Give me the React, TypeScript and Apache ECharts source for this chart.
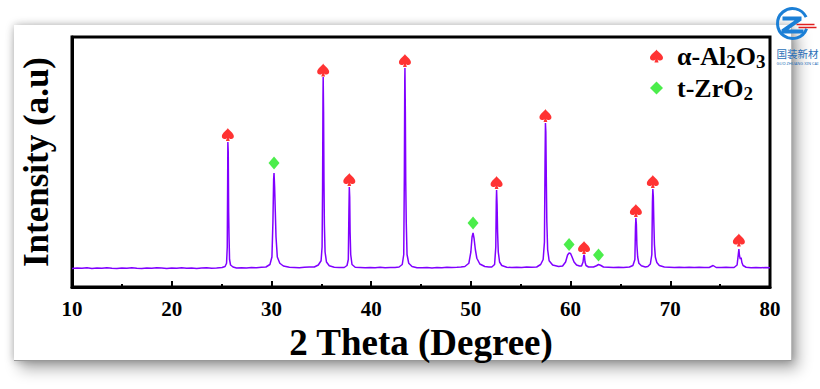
import React, { useEffect, useRef } from "react";
import * as echarts from "echarts";

// XRD pattern: [2θ (deg), intensity (a.u.)]
const xrdPattern: [number, number][] = [
  [10, 74], [10.5, 76], [11, 75], [11.5, 77], [12, 74], [12.5, 76], [13, 75], [13.5, 77], [14, 75], [14.5, 74],
  [15, 76], [15.5, 75], [16, 77], [16.5, 75], [17, 74], [17.5, 76], [18, 75], [18.5, 77], [19, 76], [19.5, 74],
  [20, 76], [20.5, 75], [21, 77], [21.5, 75], [22, 76], [22.5, 74], [23, 76], [23.5, 77], [24, 75], [24.5, 76],
  [25.05, 78], [25.35, 82], [25.5, 95], [25.57, 160], [25.61, 420], [25.63, 580], [25.67, 540], [25.71, 300],
  [25.75, 200], [25.8, 110], [25.9, 88], [26.15, 80], [26.5, 76],
  [27, 77], [27.5, 76], [28, 78], [28.5, 77], [29, 79],
  [29.45, 80], [29.85, 90], [30.05, 120], [30.15, 260], [30.22, 430], [30.26, 456], [30.32, 400], [30.39, 300],
  [30.46, 200], [30.59, 120], [30.84, 95], [31.2, 84], [31.8, 79],
  [32.3, 78], [32.8, 77], [33.3, 79], [33.8, 80],
  [34.3, 80], [34.7, 88], [34.98, 105], [35.08, 160], [35.13, 400], [35.17, 760], [35.19, 840], [35.23, 700],
  [35.27, 420], [35.31, 250], [35.38, 140], [35.52, 100], [35.8, 85], [36.3, 79],
  [36.8, 78],
  [37.3, 78], [37.58, 86], [37.71, 110], [37.77, 300], [37.81, 400], [37.85, 360], [37.89, 220], [37.95, 130],
  [38.08, 90], [38.4, 79],
  [38.9, 78], [39.4, 77], [39.9, 78], [40.4, 77], [40.9, 79], [41.4, 77], [41.9, 78], [42.4, 78],
  [42.8, 80], [43.12, 90], [43.27, 130], [43.33, 450], [43.37, 820], [43.39, 876], [43.43, 700], [43.47, 420],
  [43.52, 260], [43.6, 130], [43.77, 95], [44.1, 82], [44.6, 77],
  [45.1, 77], [45.6, 78], [46.1, 76], [46.6, 78], [47.1, 77], [47.6, 79], [48.1, 78], [48.6, 79], [49.0, 80],
  [49.4, 82], [49.8, 95], [50.0, 140], [50.12, 200], [50.22, 216], [50.32, 195], [50.45, 150], [50.6, 115],
  [50.9, 92], [51.4, 82], [51.8, 80],
  [52.1, 80], [52.38, 90], [52.5, 160], [52.55, 340], [52.58, 388], [52.63, 330], [52.68, 220], [52.75, 140],
  [52.88, 100], [53.1, 86], [53.6, 79],
  [54.1, 78], [54.6, 79], [55.1, 78], [55.6, 80], [56.1, 79],
  [56.6, 80], [57.0, 90], [57.25, 110], [57.38, 180], [57.44, 500], [57.48, 656], [57.52, 620], [57.57, 420],
  [57.62, 260], [57.7, 150], [57.85, 105], [58.2, 88], [58.8, 82],
  [59.2, 84], [59.5, 100], [59.7, 128], [59.85, 136], [60.0, 134], [60.15, 120], [60.35, 100], [60.6, 88], [60.9, 84],
  [61.1, 84], [61.25, 100], [61.33, 128], [61.39, 125], [61.45, 100], [61.55, 86], [61.8, 80],
  [62.3, 80], [62.6, 85], [62.8, 90], [63.0, 87], [63.3, 80],
  [63.8, 79], [64.3, 78], [64.8, 79], [65.3, 78],
  [65.9, 80], [66.25, 86], [66.45, 110], [66.51, 240], [66.55, 276], [66.6, 250], [66.65, 170], [66.73, 120],
  [66.85, 95], [67.1, 85], [67.5, 80],
  [67.75, 82], [68.0, 92], [68.15, 130], [68.21, 340], [68.25, 392], [68.3, 360], [68.35, 260], [68.41, 170],
  [68.5, 120], [68.65, 98], [68.9, 86], [69.4, 80],
  [69.9, 79], [70.4, 78], [70.9, 79], [71.4, 78], [71.9, 79], [72.4, 78], [72.9, 79], [73.4, 78],
  [73.9, 78], [74.3, 86], [74.6, 78],
  [75.1, 78], [75.6, 79], [76.0, 78],
  [76.4, 78], [76.7, 88], [76.82, 130], [76.88, 152], [76.94, 125], [77.02, 112], [77.1, 118], [77.18, 98],
  [77.3, 86], [77.6, 79],
  [78.1, 77], [78.6, 78], [79.1, 77], [79.6, 78], [80, 77],
];

// Phase markers (2θ, marker height)
const aluminaPeaks: [number, number][] = [
  [25.63, 610], [35.19, 868], [37.81, 430], [43.39, 906], [52.58, 418], [57.48, 686],
  [61.35, 158], [66.55, 306], [68.25, 422], [76.88, 188],
];
const zirconiaPeaks: [number, number][] = [
  [30.26, 496], [50.22, 256], [59.85, 170], [62.8, 128],
];

const xTickValues = [10, 20, 30, 40, 50, 60, 70, 80];

const SERIF = "'Liberation Serif', 'Times New Roman', serif";
const SPADE =
  "path://M50,0 C42,18 0,38 0,64 C0,86 26,92 42,76 L34,100 L66,100 L58,76 C74,92 100,86 100,64 C100,38 58,18 50,0 Z";

export default function App() {
  const ref = useRef<HTMLDivElement>(null);

  useEffect(() => {
    if (!ref.current) return;
    const chart = echarts.init(ref.current, undefined, { renderer: "svg" });
    chart.setOption({
      animation: false,
      backgroundColor: "transparent",
      grid: {
        left: 72,
        right: 50,
        top: 37,
        bottom: 102,
        show: true,
        borderColor: "#000",
        borderWidth: 3,
        backgroundColor: "transparent",
      },
      legend: {
        orient: "vertical",
        left: 645,
        top: 38,
        itemWidth: 13,
        itemHeight: 13,
        itemGap: 4,
        data: [
          { name: "α-Al2O3", icon: SPADE },
          { name: "t-ZrO2", icon: "diamond" },
        ],
        formatter: (name: string) =>
          name === "α-Al2O3" ? "{f|α-Al}{s|2}{n|O}{s|3}" : "{f|t-ZrO}{s|2}",
        textStyle: {
          rich: {
            f: { fontSize: 26, fontWeight: "bold", fontFamily: SERIF, color: "#000", lineHeight: 30, padding: [0, 0, 0, 9] },
            n: { fontSize: 26, fontWeight: "bold", fontFamily: SERIF, color: "#000", lineHeight: 30 },
            s: { fontSize: 19, fontWeight: "bold", fontFamily: SERIF, color: "#000", lineHeight: 15, verticalAlign: "bottom" },
          },
        },
      },
      xAxis: {
        type: "value",
        min: 10,
        max: 80,
        interval: 10,
        axisLine: { show: true, lineStyle: { color: "#000", width: 3 } },
        axisTick: { show: true, inside: true, length: 6, lineStyle: { color: "#000", width: 2 } },
        minorTick: { show: true, splitNumber: 2, length: 3, lineStyle: { color: "#000", width: 2 } },
        splitLine: { show: false },
        minorSplitLine: { show: false },
        axisLabel: {
          fontSize: 21,
          fontWeight: "bold",
          fontFamily: SERIF,
          color: "#000",
          margin: 11,
          formatter: (v: number) => (xTickValues.includes(v) ? String(v) : ""),
        },
        name: "2 Theta (Degree)",
        nameLocation: "middle",
        nameGap: 29,
        nameTextStyle: { fontSize: 37, fontWeight: "bold", fontFamily: SERIF, color: "#000" },
      },
      yAxis: {
        type: "value",
        min: 0,
        max: 1000,
        axisLine: { show: true, lineStyle: { color: "#000", width: 3 } },
        axisTick: { show: false },
        axisLabel: { show: false },
        splitLine: { show: false },
        name: "Intensity (a.u)",
        nameLocation: "middle",
        nameRotate: 90,
        nameGap: 18,
        nameTextStyle: { fontSize: 35, fontWeight: "bold", fontFamily: SERIF, color: "#000" },
      },
      series: [
        {
          name: "pattern",
          type: "line",
          data: xrdPattern,
          showSymbol: false,
          symbol: "none",
          lineStyle: { color: "#8000ff", width: 1.5 },
          z: 2,
        },
        {
          name: "α-Al2O3",
          type: "scatter",
          data: aluminaPeaks,
          symbol: SPADE,
          symbolSize: [12, 13],
          itemStyle: { color: "#ff0000" },
          z: 3,
        },
        {
          name: "t-ZrO2",
          type: "scatter",
          data: zirconiaPeaks,
          symbol: "diamond",
          symbolSize: [11, 13],
          itemStyle: { color: "#1ee81e" },
          z: 3,
        },
      ],
      graphic: [
        {
          type: "group",
          left: 775,
          top: 6,
          children: [
            {
              type: "arc",
              shape: { cx: 16, cy: 16, r: 15, startAngle: 0.35, endAngle: 5.85, clockwise: true },
              style: { stroke: "#1b7fd6", lineWidth: 3, fill: "none" },
            },
            {
              type: "polygon",
              shape: {
                points: [
                  [6, 9], [25, 9], [25, 13], [12, 22], [27, 22], [27, 26], [5, 26], [5, 22], [18, 13], [6, 13],
                ],
              },
              style: { fill: "#1b7fd6" },
            },
            { type: "line", shape: { x1: 20, y1: 17, x2: 38, y2: 17 }, style: { stroke: "#e02020", lineWidth: 1.5 } },
            { type: "line", shape: { x1: 22, y1: 20, x2: 40, y2: 20 }, style: { stroke: "#e02020", lineWidth: 1.5 } },
            {
              type: "text",
              x: 21,
              y: 46,
              style: {
                text: "国装新材",
                fontSize: 10.5,
                fontFamily: "'Noto Sans CJK SC', sans-serif",
                fill: "#2a6fb8",
                align: "center",
                verticalAlign: "middle",
              },
            },
            {
              type: "text",
              x: 21,
              y: 56,
              style: {
                text: "GUO ZHUANG XIN CAI",
                fontSize: 4,
                fontFamily: "'Noto Sans', sans-serif",
                fill: "#2a6fb8",
                align: "center",
                verticalAlign: "middle",
              },
            },
          ],
        },
      ],
    });
    return () => chart.dispose();
  }, []);

  return (
    <div style={{ position: "fixed", left: 0, top: 0, width: 820, height: 389, background: "#fff", overflow: "hidden" }}>
      <div
        style={{
          position: "absolute",
          left: 14,
          top: 25,
          width: 778,
          height: 336,
          background: "#fff",
          boxShadow: "0 0 8px rgba(0,0,0,0.28), 6px 8px 14px rgba(0,0,0,0.32)",
          borderRight: "1px solid #bbb",
          borderBottom: "1px solid #999",
          boxSizing: "border-box",
        }}
      />
      <div ref={ref} style={{ position: "absolute", left: 0, top: 0, width: 820, height: 389 }} />
    </div>
  );
}
